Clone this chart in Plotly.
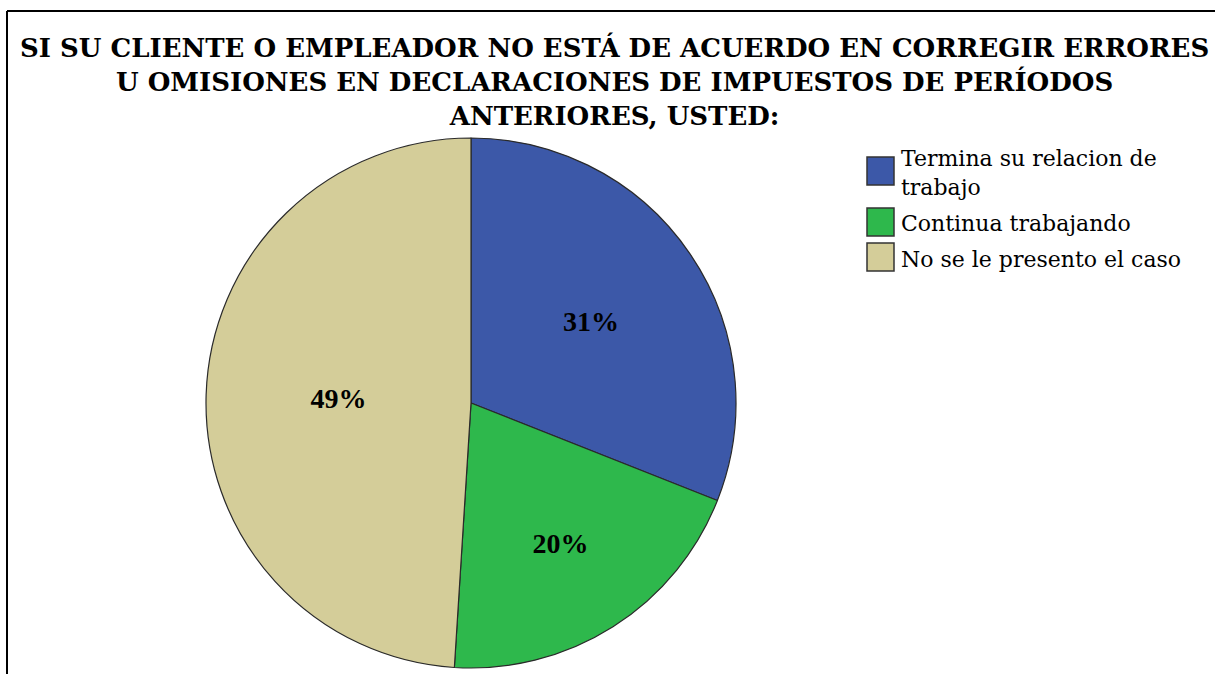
import plotly.graph_objects as go

categories = ["Termina su relacion de<br>trabajo", "Continua trabajando", "No se le presento el caso"]
values = [31, 20, 49]
colors = ["#3C58A8", "#2EB84C", "#D4CD99"]
title_lines = [
    "SI SU CLIENTE O EMPLEADOR NO ESTÁ DE ACUERDO EN CORREGIR ERRORES",
    "U OMISIONES EN DECLARACIONES DE IMPUESTOS DE PERÍODOS",
    "ANTERIORES, USTED:",
]

W, H = 1215, 674
times = "Liberation Serif, Times New Roman, serif"
wide_serif = "DejaVu Serif, serif"


def px(x):
    return x / W


def py(y):
    return 1 - y / H


fig = go.Figure(go.Pie(
    labels=categories,
    values=values,
    sort=False,
    direction="clockwise",
    rotation=0,
    marker=dict(colors=colors, line=dict(color="#2a2a2a", width=1.2)),
    texttemplate="<b>%{percent:.0%}</b>",
    textposition="inside",
    insidetextorientation="horizontal",
    textfont=dict(family=times, size=28, color="black"),
    domain=dict(x=[px(205), px(737)], y=[py(668), py(138)]),
    hoverinfo="label+percent",
    showlegend=False,
))

shapes = [
    dict(type="line", xref="paper", yref="paper", x0=px(7), x1=1, y0=py(11), y1=py(11),
         line=dict(color="black", width=2)),
    dict(type="line", xref="paper", yref="paper", x0=px(7), x1=px(7), y0=py(11), y1=0,
         line=dict(color="black", width=2)),
]
annotations = [dict(
    text="<br>".join("<b>%s</b>" % t for t in title_lines),
    x=px(614), y=py(30), xref="paper", yref="paper",
    xanchor="center", yanchor="top", showarrow=False,
    font=dict(family=wide_serif, size=26, color="black"),
    align="center",
)]

# custom legend with large square swatches
box_x0, box_size = 867, 27
top = 157
for label, col in zip(categories, colors):
    nlines = label.count("<br>") + 1
    shapes.append(dict(
        type="rect", xref="paper", yref="paper",
        x0=px(box_x0), x1=px(box_x0 + box_size), y0=py(top + box_size + 1), y1=py(top),
        fillcolor=col, line=dict(color="#333333", width=1.5),
    ))
    annotations.append(dict(
        text=label, x=px(box_x0 + box_size + 5), y=py(top + box_size / 2 + 2.5),
        xref="paper", yref="paper", xanchor="left", yanchor="middle",
        showarrow=False, align="left",
        font=dict(family=wide_serif, size=22, color="black"),
    ))
    top += 35 + (nlines - 1) * 16

fig.update_layout(
    width=W, height=H,
    margin=dict(l=0, r=0, t=0, b=0),
    paper_bgcolor="white",
    plot_bgcolor="white",
    showlegend=False,
    annotations=annotations,
    shapes=shapes,
)

fig.write_html(
    "out.html",
    config=dict(displayModeBar=False),
    post_script="document.body.style.margin='0';document.body.style.overflow='hidden';",
)
